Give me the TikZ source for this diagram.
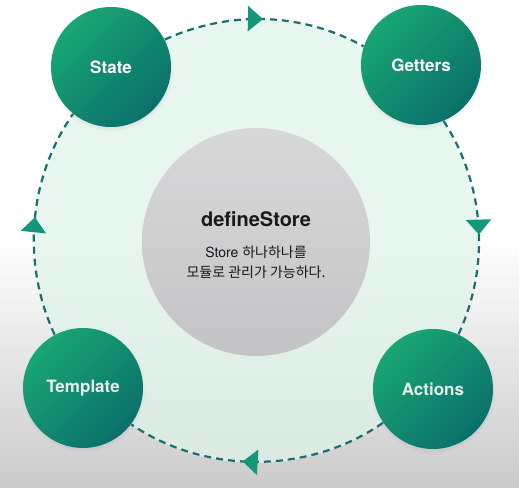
\documentclass[tikz,border=0pt]{standalone}
\usepackage{fontspec}
\setmainfont{TeX Gyre Heros}
\newfontfamily\kr{Noto Sans CJK KR}
\usetikzlibrary{arrows.meta,decorations.markings,shadows}
\definecolor{stepgreen}{HTML}{18A673}
\definecolor{stepteal}{HTML}{0B706B}
\definecolor{flowline}{HTML}{1B6E70}
\definecolor{tipgreen}{HTML}{12977A}
\definecolor{mint}{HTML}{DFF4E9}
\definecolor{storegrey}{HTML}{D8D8D9}
\definecolor{storegreydark}{HTML}{C4C3C5}
\definecolor{bggrey}{HTML}{CBCBCB}
\definecolor{paletext}{HTML}{E8EEEB}

\begin{document}
\begin{tikzpicture}[x=1pt,y=1pt,thick,
    part node/.style={circle,minimum size=120pt,inner sep=0pt,top color=stepgreen,bottom color=stepteal,shading angle=45,text=white,font=\bfseries\fontsize{17}{20}\selectfont,circular drop shadow={shadow xshift=0pt,shadow yshift=-2pt,shadow scale=1.04,opacity=0.25}},
    store node/.style={circle,minimum size=228pt,inner sep=0pt,top color=storegrey,bottom color=storegreydark},
    flow/.style={flowline,line width=2.2pt,dash pattern=on 7pt off 5pt,looseness=0.91,postaction={decorate},decoration={markings,mark=at position #1 with {\arrow{Triangle[width=25pt,length=15pt,color=tipgreen]}}}}]

                % background
                \useasboundingbox (0,0) rectangle (519,487);
                \fill[white] (0,0) rectangle (519,487);
                \shade[top color=white,bottom color=bggrey] (0,0) rectangle (519,250);
                \fill[mint,fill opacity=0.75] (256,246) circle (222);

                \node[store node] (store) at (256,245) {};
                \node[font=\bfseries\fontsize{20}{24}\selectfont,text=black!90] (title) at (256,268) {defineStore};
                \node[font=\fontsize{14}{16}\selectfont,text=black!90] (line1) at (256,235) {Store {\kr 하나하나를}};
                \node[font=\fontsize{14}{16}\selectfont,text=black!90] (line2) at (256,215) {\kr 모듈로 관리가 가능하다.};

                \node[part node] (state) at (111,420) {State};
                \node[part node] (getters) at (421,422) {Getters};
                \node[part node,text=paletext] (actions) at (433,98) {Actions};
                \node[part node,text=paletext] (template) at (83,99) {Template};

                % dashed ring, one arc per step
                \draw[flow=0.49] (state.27.8) to[out=24.5,in=151.1] (getters.162.8);
                \draw[flow=0.54] (getters.-68.2) to[out=-57.1,in=65.2] (actions.65.9);
                \draw[flow=0.555] (actions.214.2) to[out=-144.9,in=-34.3] (template.-37.3);
                \draw[flow=0.52] (template.118) to[out=115,in=235.2] (state.231.8);
            \end{tikzpicture}
\end{document}
